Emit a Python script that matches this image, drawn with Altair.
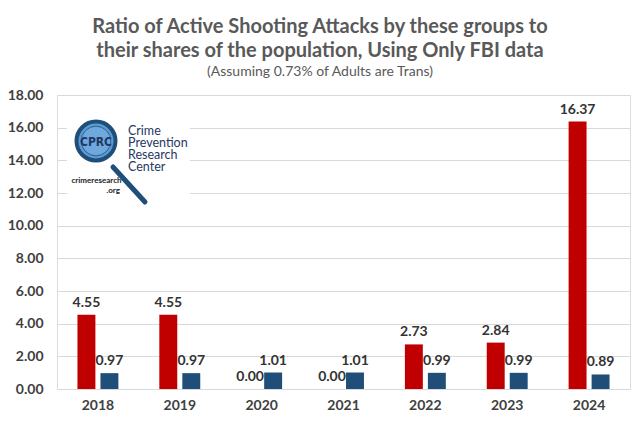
import altair as alt
import pandas as pd

years = ["2018", "2019", "2020", "2021", "2022", "2023", "2024"]
trans_ratio = [4.55, 4.55, 0.00, 0.00, 2.73, 2.84, 16.37]
other_ratio = [0.97, 0.97, 1.01, 1.01, 0.99, 0.99, 0.89]
series = ["Trans", "Non-Trans"]
series_colors = ["#c00000", "#1f4e79"]
y_ticks = [0, 2, 4, 6, 8, 10, 12, 14, 16, 18]

title_lines = ["Ratio of Active Shooting Attacks by these groups to",
               "their shares of the population, Using Only FBI data"]
subtitle = "(Assuming 0.73% of Adults are Trans)"
logo_lines = ["Crime", "Prevention", "Research", "Center"]

rows = []
for i, yr in enumerate(years):
    rows.append({"year": yr, "group": series[0], "ratio": trans_ratio[i]})
    rows.append({"year": yr, "group": series[1], "ratio": other_ratio[i]})
df = pd.DataFrame(rows)

FONT = "Lato"
NAVY = "#1f3864"

x_enc = alt.X("year:N", sort=years, title=None,
              scale=alt.Scale(paddingInner=0.5, paddingOuter=0.25),
              axis=alt.Axis(labelAngle=0, ticks=False, domain=False, grid=False,
                            labelFont=FONT, labelFontSize=14, labelFontWeight="bold",
                            labelColor="#404040", labelPadding=9))
xo_enc = alt.XOffset("group:N", sort=series,
                     scale=alt.Scale(domain=series, paddingInner=0.22, paddingOuter=0))
y_enc = alt.Y("ratio:Q", title=None,
              scale=alt.Scale(domain=[0, 18], nice=False),
              axis=alt.Axis(values=y_ticks, format=".2f", ticks=False, domain=False,
                            grid=True, gridColor="#d9d9d9", gridWidth=1,
                            labelFont=FONT, labelFontSize=14, labelFontWeight="bold",
                            labelColor="#404040", labelPadding=14))

base = alt.Chart(df)

bars = base.mark_bar().encode(
    x=x_enc, xOffset=xo_enc, y=y_enc,
    color=alt.Color("group:N", sort=series,
                    scale=alt.Scale(domain=series, range=series_colors), legend=None),
)

labels = base.mark_text(font=FONT, fontSize=14, fontWeight="bold", color="#333333",
                        baseline="middle", dy=-12).encode(
    x=x_enc, xOffset=xo_enc, y=y_enc,
    text=alt.Text("ratio:Q", format=".2f"),
)

one = alt.Chart(pd.DataFrame({"k": [0]}))

logo_bg = one.mark_rect(color="white").encode(
    x=alt.value(10), x2=alt.value(133), y=alt.value(9), y2=alt.value(117))
handle = one.mark_rule(color="#1f4e79", strokeWidth=5, strokeCap="round").encode(
    x=alt.value(56), x2=alt.value(88), y=alt.value(72), y2=alt.value(107))
ring = one.mark_point(shape="circle", filled=True, size=1520, fill="#5b9bd5",
                      stroke="#1f4e79", strokeWidth=4, opacity=1).encode(
    x=alt.value(39), y=alt.value(46))
inner = one.mark_point(shape="circle", filled=True, size=880, fill="#6fa8dc",
                       stroke="#2e5f8a", strokeWidth=1, opacity=1).encode(
    x=alt.value(39), y=alt.value(46))
cprc = one.mark_text(text="CPRC", font="DejaVu Sans Condensed", fontWeight="bold",
                     fontSize=12, color=NAVY, align="center", baseline="middle").encode(
    x=alt.value(39), y=alt.value(47))
logo_text = one.mark_text(text=logo_lines, font=FONT, fontSize=12.5, lineHeight=12,
                          color=NAVY, align="left", baseline="middle").encode(
    x=alt.value(71), y=alt.value(36))
site1 = one.mark_text(text="crimeresearch", font=FONT, fontSize=8, fontWeight="bold",
                      color="#222222", align="center", baseline="middle").encode(
    x=alt.value(39.5), y=alt.value(86))
site2 = one.mark_text(text=".org", font=FONT, fontSize=8, fontWeight="bold",
                      color="#222222", align="right", baseline="middle").encode(
    x=alt.value(63), y=alt.value(96))

chart = alt.layer(bars, labels, logo_bg, handle, ring, inner, cprc, logo_text, site1, site2).properties(
    width=573, height=294,
    padding={"left": 49, "top": 87, "right": 2, "bottom": 24},
    autosize=alt.AutoSizeParams(type="none"),
    title=alt.TitleParams(
        text=title_lines, subtitle=subtitle,
        font=FONT, fontSize=20, fontWeight="bold", color="#595959", lineHeight=24.5,
        subtitleFont=FONT, subtitleFontSize=14, subtitleColor="#595959",
        subtitlePadding=4, anchor="middle", dx=-23.5, offset=9),
).configure_view(stroke=None).configure(background="white")

chart.save("out.html", embed_options={"renderer": "svg", "actions": False})
